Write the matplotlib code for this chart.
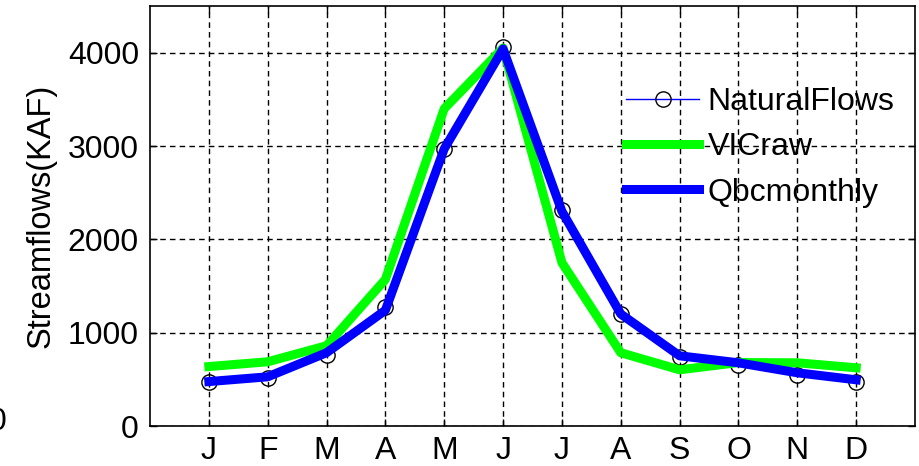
import matplotlib
matplotlib.use("Agg")
import matplotlib.pyplot as plt
import numpy as np

months = ["J", "F", "M", "A", "M", "J", "J", "A", "S", "O", "N", "D"]
natural_flows = [476, 516, 763, 1270, 2970, 4065, 2310, 1195, 734, 656, 548, 476]
vic_raw = [637, 688, 860, 1570, 3400, 4050, 1750, 785, 602, 680, 677, 624]
qbc_monthly = [476, 527, 785, 1240, 2970, 4040, 2300, 1200, 752, 677, 570, 495]
yticks = [0, 1000, 2000, 3000, 4000]

plt.rcParams['font.family'] = ['Liberation Sans', 'DejaVu Sans']
FS = 23

fig = plt.figure(figsize=(9.2, 4.66), dpi=100)
ax = fig.add_axes([150/920, 40/466, 765/920, 420/466])

x = np.arange(1, len(months) + 1)
ax.plot(x, natural_flows, color='blue', lw=1.0, marker='o', ms=11,
        mfc='none', mec='black', mew=1.0, label='NaturalFlows', zorder=2)
ax.plot(x, vic_raw, color='#00ff00', lw=6.5, label='VICraw', zorder=3)
ax.plot(x, qbc_monthly, color='#0000ff', lw=6.5, label='Qbcmonthly', zorder=4)

ax.set_xlim(0, 13)
ax.set_ylim(0, 4500)
ax.set_xticks(x)
ax.set_xticklabels(months)
ax.set_yticks(yticks)
ax.tick_params(direction='in', length=5, width=1, top=True, right=True,
               labelsize=FS, colors='black')
ax.tick_params(axis='x', pad=7)
ax.tick_params(axis='y', pad=8)
ax.grid(True, color='black', linestyle=(0, (4, 3)), linewidth=1)
for s in ax.spines.values():
    s.set_linewidth(1.2)
ax.set_ylabel('Streamflows(KAF)', fontsize=FS + 0.5, labelpad=8)

leg = ax.legend(loc='upper left', bbox_to_anchor=(626/920, 1 - 87/466),
                bbox_transform=fig.transFigure, frameon=False,
                fontsize=FS, handlelength=2.3, handletextpad=0.25,
                labelspacing=0.48, borderaxespad=0, borderpad=0)

fig.text(7/920, 1 - 422/466, '0', fontsize=FS, ha='right', va='center')

fig.savefig('out.png', dpi=100)
